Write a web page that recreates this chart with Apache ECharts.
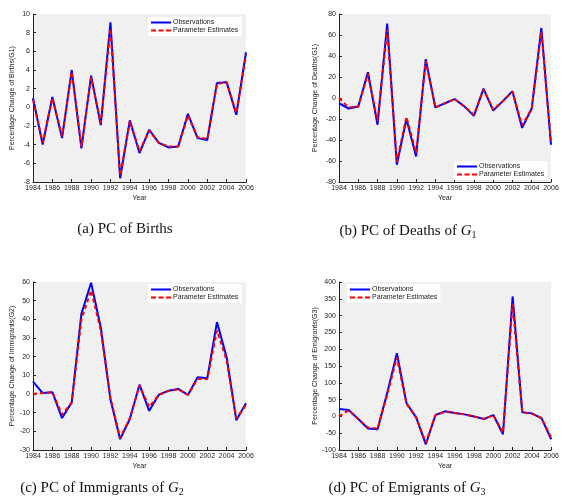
<!DOCTYPE html>
<html><head><meta charset="utf-8">
<script src="https://cdn.jsdelivr.net/npm/echarts@6/dist/echarts.min.js"></script>
<style>html,body{margin:0;padding:0;background:#fff}#c{width:562px;height:503px}</style>
</head><body><div id="c"></div>
<script>
var years = [1984,1985,1986,1987,1988,1989,1990,1991,1992,1993,1994,1995,1996,1997,1998,1999,2000,2001,2002,2003,2004,2005,2006];

var birthsObs = [1.0,-4.0,1.1,-3.3,4.0,-4.4,3.4,-1.9,9.1,-7.6,-1.4,-4.9,-2.4,-3.8,-4.3,-4.2,-0.7,-3.3,-3.5,2.6,2.7,-0.8,5.9];
var birthsEst = [0.8,-3.8,1.0,-3.1,3.8,-4.2,3.2,-1.7,8.4,-7.3,-1.5,-4.7,-2.5,-3.8,-4.2,-4.2,-0.9,-3.2,-3.4,2.5,2.7,-0.6,5.6];

var deathsObs = [-5,-10,-8,24.5,-25.5,70.8,-63.5,-20,-55.6,37,-9,-5,-1,-8,-17,9,-12,-3,6.5,-28.5,-10,66.7,-44.5];
var deathsEst = [0,-9,-8,23,-22,65,-61,-18,-52,35,-9,-5,-1,-8,-16,8,-11,-3,6,-26,-10,63,-42];

var immigObs = [6.6,0.5,1.0,-12.9,-4.5,43,59.6,35.8,-3,-24.2,-13.4,5,-9,-0.4,1.8,2.7,-0.5,9,8.4,38.5,19.7,-14,-5];
var immigEst = [0,0.5,1.0,-11,-4.5,40,55.5,34,-2,-23.5,-13,4.5,-7,-0.4,1.6,2.5,-0.5,8,8,34,18,-13,-6];

var emigObs = [22,19,-8,-36,-38,70,188,39,-3,-83,4,15,10,6,0,-8,4,-53,357,12,9,-6,-68];
var emigEst = [0,18,-8,-33,-36,65,175,37,-3,-78,4,14,10,6,0,-7,3,-48,335,12,8,-5,-63];

var yNames = ['Percentage Change of Births(G1)','Percentage Change of Deaths(G1)','Percentage Change of Immigrants(G2)','Percentage Change of Emigrants(G3)'];
var yRanges = [[-8,10,2],[-80,80,20],[-30,60,10],[-100,400,50]];
var captions = ['(a) PC of Births','(b) PC of Deaths of {it|G}{sub|1}','(c) PC of Immigrants of {it|G}{sub|2}','(d) PC of Emigrants of {it|G}{sub|3}'];

function pairs(v){return years.map(function(y,i){return [y,v[i]];});}

var grids = [
  {left:33, top:14, width:213, height:168},
  {left:339, top:14, width:212, height:168},
  {left:33, top:282, width:213, height:168},
  {left:339, top:282, width:213, height:168}
];
var font = 'Liberation Sans, Arial, sans-serif';
var xAxes = [], yAxes = [], series = [];
var obsArr = [birthsObs, deathsObs, immigObs, emigObs];
var estArr = [birthsEst, deathsEst, immigEst, emigEst];
for (var k=0;k<4;k++){
  xAxes.push({type:'value', gridIndex:k, min:1984, max:2006, interval:2,
    name:'Year', nameLocation:'middle', nameGap:13,
    nameTextStyle:{fontSize:7, color:'#222', fontFamily:font},
    axisLine:{onZero:false, lineStyle:{color:'#222', width:1}},
    axisTick:{inside:true, length:3, lineStyle:{color:'#222'}},
    axisLabel:{fontSize:7, color:'#222', margin:3, fontFamily:font, formatter:function(v){return String(v);}},
    splitLine:{show:false}});
  yAxes.push({type:'value', gridIndex:k, min:yRanges[k][0], max:yRanges[k][1], interval:yRanges[k][2],
    name:yNames[k], nameLocation:'middle', nameGap:(k%2===0?17:20), nameRotate:90,
    nameTextStyle:{fontSize:7, color:'#222', fontFamily:font},
    axisLine:{show:true, onZero:false, lineStyle:{color:'#222', width:1}},
    axisTick:{show:true, inside:true, length:3, lineStyle:{color:'#222'}},
    axisLabel:{fontSize:7, color:'#222', margin:3, fontFamily:font},
    splitLine:{show:false}});
  series.push({type:'line', name:'Observations', xAxisIndex:k, yAxisIndex:k, data:pairs(obsArr[k]),
    symbol:'none', lineStyle:{color:'#0000ff', width:2}, itemStyle:{color:'#0000ff'}, animation:false});
  series.push({type:'line', name:'Parameter Estimates', xAxisIndex:k, yAxisIndex:k, data:pairs(estArr[k]),
    symbol:'none', lineStyle:{color:'#ff0000', width:2, type:[4,3]}, itemStyle:{color:'#ff0000'}, animation:false});
}
grids.forEach(function(g){g.backgroundColor='#f0f0f0'; g.show=true; g.borderWidth=0;});

var legendPos = [
  {left:148, top:17},
  {left:454, top:161},
  {left:148, top:284},
  {left:347, top:284}
];
var legends = legendPos.map(function(p,k){
  return {show:true, left:p.left, top:p.top, orient:'vertical', itemGap:1, itemWidth:20, itemHeight:6,
    padding:[2,3,2,3], backgroundColor:'#ffffff', borderColor:'#ffffff',
    textStyle:{fontSize:7, color:'#222', fontFamily:font, padding:[0,0,0,-3]},
    data:[{name:'Observations', icon:'path://M0,0L20,0L20,2L0,2Z', itemStyle:{color:'#0000ff'}},
          {name:'Parameter Estimates', icon:'path://M0,0L5,0L5,2L0,2ZM7.5,0L12.5,0L12.5,2L7.5,2ZM15,0L20,0L20,2L15,2Z', itemStyle:{color:'#ff0000'}}],
    seriesIndex:[2*k,2*k+1]};
});

var capPos = [[120,217],[403,217],[97,474],[402,474]];
var titles = captions.map(function(t,k){
  return {text:t, left:capPos[k][0], top:capPos[k][1], textAlign:'center',
    textStyle:{fontSize:15, fontWeight:'normal', color:'#111', fontFamily:'Liberation Serif, Times New Roman, serif',
      rich:{it:{fontSize:15, fontStyle:'italic', fontFamily:'Liberation Serif, serif', color:'#111'},
            sub:{fontSize:10, fontFamily:'Liberation Serif, serif', color:'#111', padding:[8,0,0,0]}}}};
});

var chart = echarts.init(document.getElementById('c'), null, {renderer:'canvas'});
chart.setOption({animation:false, grid:grids, xAxis:xAxes, yAxis:yAxes, series:series, legend:legends, title:titles});
</script></body></html>
